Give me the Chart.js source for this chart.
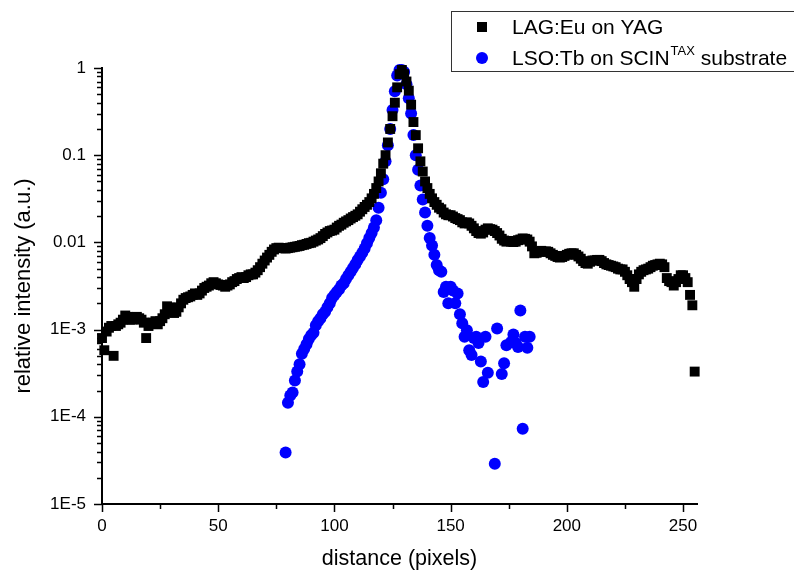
<!DOCTYPE html>
<html>
<head>
<meta charset="utf-8">
<title>Line spread profile</title>
<script src="https://cdn.jsdelivr.net/npm/chart.js@4.4.1/dist/chart.umd.min.js"></script>
<style>
  html, body { margin: 0; padding: 0; background: #fff; overflow: hidden; }
  #wrap { position: relative; width: 794px; height: 570px; }
</style>
</head>
<body>
<div id="wrap"><canvas id="chart" width="794" height="570"></canvas></div>
<script>
// LAG:Eu on YAG (black squares), one value per pixel, x = 0..255
const lagY = [
  8.0e-4, 5.8e-4, 9.5e-4, 1.05e-3, 1.1e-3, 5.0e-4, 1.1e-3, 1.15e-3, 1.2e-3, 1.3e-3,
  1.45e-3, 1.4e-3, 1.3e-3, 1.3e-3, 1.35e-3, 1.4e-3, 1.35e-3, 1.3e-3, 1.2e-3, 8.0e-4,
  1.1e-3, 1.2e-3, 1.2e-3, 1.25e-3, 1.15e-3, 1.25e-3, 1.35e-3, 1.5e-3, 1.85e-3, 1.8e-3,
  1.6e-3, 1.55e-3, 1.6e-3, 1.8e-3, 2.0e-3, 2.2e-3, 2.3e-3, 2.35e-3, 2.4e-3, 2.5e-3,
  2.6e-3, 2.5e-3, 2.6e-3, 2.8e-3, 3.0e-3, 3.1e-3, 3.2e-3, 3.4e-3, 3.5e-3, 3.4e-3,
  3.3e-3, 3.25e-3, 3.2e-3, 3.1e-3, 3.2e-3, 3.3e-3, 3.5e-3, 3.6e-3, 3.8e-3, 3.9e-3,
  4.0e-3, 3.9e-3, 4.0e-3, 4.2e-3, 4.3e-3, 4.3e-3, 4.5e-3, 4.8e-3, 5.2e-3, 5.7e-3,
  6.2e-3, 6.7e-3, 7.2e-3, 7.8e-3, 8.3e-3, 8.6e-3, 8.7e-3, 8.6e-3, 8.6e-3, 8.5e-3,
  8.6e-3, 8.7e-3, 8.8e-3, 8.9e-3, 9.0e-3, 9.1e-3, 9.3e-3, 9.4e-3, 9.6e-3, 9.8e-3,
  9.9e-3, 0.0102, 0.0105, 0.0108, 0.0112, 0.0118, 0.0125, 0.013, 0.0135, 0.0137,
  0.014, 0.0148, 0.0155, 0.016, 0.0168, 0.0174, 0.018, 0.0188, 0.0195, 0.0202,
  0.021, 0.0225, 0.024, 0.0255, 0.027, 0.029, 0.032, 0.036, 0.042, 0.05,
  0.062, 0.08, 0.1, 0.14, 0.2, 0.28, 0.4, 0.6, 0.85, 0.95,
  0.85, 0.7, 0.55, 0.38, 0.24, 0.17, 0.12, 0.085, 0.065, 0.05,
  0.042, 0.036, 0.032, 0.029, 0.027, 0.025, 0.024, 0.022, 0.021, 0.0205,
  0.0205, 0.0198, 0.019, 0.0185, 0.018, 0.017, 0.0165, 0.017, 0.0165, 0.0155,
  0.0145, 0.0135, 0.0128, 0.0126, 0.013, 0.014, 0.0145, 0.0142, 0.014, 0.0135,
  0.0128, 0.012, 0.011, 0.0105, 0.0102, 0.0104, 0.0102, 0.0101, 0.0102, 0.0106,
  0.0108, 0.0111, 0.011, 0.0108, 0.0102, 0.009, 0.0075, 0.0076, 0.0078, 0.008,
  0.0078, 0.0079, 0.0078, 0.0075, 0.0072, 0.007, 0.0068, 0.0067, 0.0068, 0.007,
  0.0072, 0.0074, 0.0075, 0.0075, 0.0072, 0.0069, 0.0065, 0.0061, 0.0058, 0.0057,
  0.006, 0.0062, 0.0062, 0.0063, 0.0063, 0.0061, 0.0058, 0.0056, 0.0055, 0.0054,
  0.0053, 0.0052, 0.005, 0.0049, 0.0049, 0.0046, 0.0042, 0.0038, 0.0035, 0.0031,
  0.0038, 0.0043, 0.0046, 0.0048, 0.0049, 0.005, 0.0052, 0.0054, 0.0055, 0.0056,
  0.0057, 0.0056, 0.0052, 0.0039, 0.0036, 0.0035, 0.0032, 0.0035, 0.0038, 0.0042,
  0.0042, 0.0039, 0.0035, 0.0025, 0.0019, 3.3e-4
];

// LSO:Tb on SCIN-TAX substrate (blue circles)
const lsoX = [79, 80, 81, 82, 83, 84, 85, 86, 87, 88, 89, 90, 91, 92, 93, 94, 95, 96, 97, 98,
  99, 100, 101, 102, 103, 104, 105, 106, 107, 108, 109, 110, 111, 112, 113, 114, 115, 116, 117, 118,
  119, 120, 121, 122, 123, 124, 125, 126, 127, 128, 129, 130, 131, 132, 133, 134, 135, 136, 137, 138,
  139, 140, 141, 142, 143, 144, 145, 146, 147, 148, 149, 150, 151, 152, 153, 154, 155, 156, 157, 158,
  159, 160, 161, 162, 163, 164, 165, 166, 169, 170, 172, 173, 174, 176, 177, 178, 179, 180, 181, 182,
  183, 184];
const lsoY = [3.9e-5, 1.45e-4, 1.75e-4, 1.9e-4, 2.6e-4, 3.3e-4, 4.0e-4, 5.3e-4, 6.0e-4, 6.8e-4, 7.8e-4, 8.6e-4, 9.2e-4, 1.12e-3, 1.25e-3, 1.35e-3, 1.5e-3, 1.6e-3, 1.8e-3, 2.0e-3,
  2.3e-3, 2.5e-3, 2.7e-3, 2.9e-3, 3.2e-3, 3.4e-3, 3.8e-3, 4.2e-3, 4.6e-3, 5.1e-3, 5.6e-3, 6.3e-3, 6.9e-3, 7.6e-3, 8.5e-3, 9.8e-3, 0.0112, 0.0128, 0.0148, 0.018,
  0.025, 0.037, 0.053, 0.085, 0.13, 0.2, 0.33, 0.54, 0.82, 0.95, 0.95, 0.9, 0.65, 0.45, 0.3, 0.17, 0.1, 0.068, 0.045, 0.031,
  0.022, 0.0155, 0.0112, 0.0092, 0.0072, 0.0055, 0.0048, 0.0046, 0.0027, 0.0031, 0.002, 0.0031, 0.0028, 0.002, 0.0026, 0.0015, 1.18e-3, 8.3e-4, 9.8e-4, 5.8e-4,
  5.1e-4, 8.0e-4, 8.3e-4, 7.0e-4, 4.3e-4, 2.5e-4, 8.3e-4, 3.2e-4, 2.9e-5, 1.03e-3, 3.1e-4, 4.1e-4, 6.6e-4, 7.2e-4, 8.8e-4, 7.0e-4, 6.3e-4, 1.66e-3, 7.3e-5, 8.3e-4,
  6.2e-4, 8.3e-4];

const seriesNames = ['LAG:Eu on YAG', 'LSO:Tb on SCIN', 'TAX', ' substrate'];
const xTickValues = [0, 50, 100, 150, 200, 250];
const xMinorTicks = [25, 75, 125, 175, 225];
const yTickValues = [1e-5, 1e-4, 1e-3, 0.01, 0.1, 1];
const yTickLabels = ['1E-5', '1E-4', '1E-3', '0.01', '0.1', '1'];

const FONT = '"Liberation Sans", Arial, sans-serif';

// minor / major tick marks + legend box with superscript
const decorations = {
  id: 'decorations',
  afterDraw(chart) {
    const { ctx, chartArea } = chart;
    const xs = chart.scales.x, ys = chart.scales.y;
    ctx.save();
    ctx.strokeStyle = '#000';
    ctx.lineWidth = 1.5;
    ctx.beginPath();
    xTickValues.forEach(v => {
      const px = Math.round(xs.getPixelForValue(v)) + 0.5;
      ctx.moveTo(px, chartArea.bottom);
      ctx.lineTo(px, chartArea.bottom + 8);
    });
    xMinorTicks.forEach(v => {
      const px = Math.round(xs.getPixelForValue(v)) + 0.5;
      ctx.moveTo(px, chartArea.bottom);
      ctx.lineTo(px, chartArea.bottom + 5);
    });
    yTickValues.forEach(v => {
      const py = Math.round(ys.getPixelForValue(v)) + 0.5;
      ctx.moveTo(chartArea.left, py);
      ctx.lineTo(chartArea.left - 8, py);
      if (v < 1) {
        for (let m = 2; m <= 9; m++) {
          const pm = Math.round(ys.getPixelForValue(v * m)) + 0.5;
          ctx.moveTo(chartArea.left, pm);
          ctx.lineTo(chartArea.left - 5, pm);
        }
      }
    });
    ctx.stroke();

    // legend
    ctx.lineWidth = 1;
    ctx.strokeStyle = '#333';
    ctx.strokeRect(451.5, 11.5, 360, 60);
    ctx.fillStyle = '#000';
    ctx.fillRect(477, 22, 10, 10);
    ctx.fillStyle = '#0000ff';
    ctx.beginPath();
    ctx.arc(482, 58, 6, 0, Math.PI * 2);
    ctx.fill();

    ctx.fillStyle = '#000';
    ctx.textBaseline = 'alphabetic';
    ctx.textAlign = 'left';
    ctx.font = '21px ' + FONT;
    ctx.fillText(seriesNames[0], 512, 34);
    let tx = 512;
    ctx.fillText(seriesNames[1], tx, 65);
    tx += ctx.measureText(seriesNames[1]).width;
    ctx.font = '13px ' + FONT;
    ctx.fillText(seriesNames[2], tx + 1, 55);
    tx += ctx.measureText(seriesNames[2]).width + 1;
    ctx.font = '21px ' + FONT;
    ctx.fillText(seriesNames[3], tx, 65);
    ctx.restore();
  }
};

new Chart(document.getElementById('chart'), {
  type: 'scatter',
  data: {
    datasets: [
      {
        label: seriesNames[0],
        data: lagY.map((y, i) => ({ x: i, y: y })),
        pointStyle: 'rect',
        pointRadius: 7,
        pointBorderWidth: 0,
        backgroundColor: '#000',
        borderColor: '#000',
        clip: false
      },
      {
        label: seriesNames[1] + seriesNames[2] + seriesNames[3],
        data: lsoX.map((x, i) => ({ x: x, y: lsoY[i] })),
        pointStyle: 'circle',
        pointRadius: 6,
        pointBorderWidth: 0,
        backgroundColor: '#0000ff',
        borderColor: '#0000ff',
        clip: false
      }
    ]
  },
  options: {
    responsive: false,
    animation: false,
    devicePixelRatio: 1,
    layout: { padding: { top: 68, right: 97, bottom: 0, left: 0 } },
    plugins: {
      legend: { display: false },
      tooltip: { enabled: false }
    },
    scales: {
      x: {
        type: 'linear',
        position: 'bottom',
        min: 0,
        max: 256,
        afterBuildTicks: s => { s.ticks = xTickValues.map(v => ({ value: v })); },
        afterFit: s => { s.height = 66; },
        grid: { display: false, drawTicks: false },
        border: { display: true, color: '#000', width: 2 },
        ticks: {
          color: '#000',
          font: { family: FONT, size: 17 },
          padding: 12,
          maxRotation: 0,
          autoSkip: false,
          callback: v => String(v)
        },
        title: {
          display: true,
          text: 'distance (pixels)',
          color: '#000',
          font: { family: FONT, size: 21.5, lineHeight: 1 },
          padding: { top: 0, bottom: 0 }
        }
      },
      y: {
        type: 'logarithmic',
        position: 'left',
        min: 1e-5,
        max: 1,
        afterBuildTicks: s => { s.ticks = yTickValues.map(v => ({ value: v })); },
        afterFit: s => { s.width = 102; },
        grid: { display: false, drawTicks: false },
        border: { display: true, color: '#000', width: 2 },
        ticks: {
          color: '#000',
          font: { family: FONT, size: 17 },
          padding: 16,
          autoSkip: false,
          callback: v => yTickLabels[yTickValues.indexOf(v)]
        },
        title: {
          display: true,
          text: 'relative intensity (a.u.)',
          color: '#000',
          font: { family: FONT, size: 22, lineHeight: 1 },
          padding: { top: 13, bottom: 0 }
        }
      }
    }
  },
  plugins: [decorations]
});
</script>
</body>
</html>
